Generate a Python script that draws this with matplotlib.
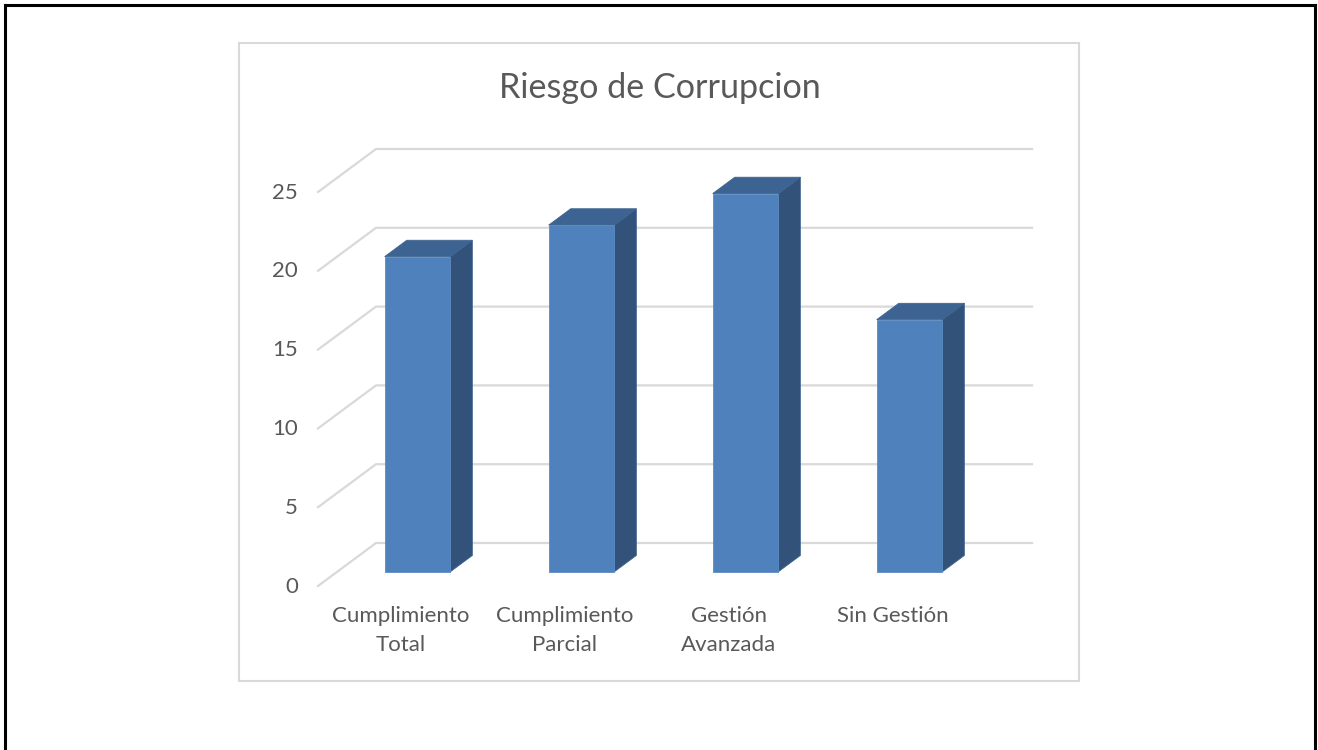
import matplotlib
matplotlib.use('Agg')
import matplotlib.pyplot as plt
from matplotlib.lines import Line2D
from matplotlib.patches import Polygon, Rectangle
from matplotlib.transforms import ScaledTranslation

categories = ['Cumplimiento\nTotal', 'Cumplimiento\nParcial', 'Gestión\nAvanzada', 'Sin Gestión']
values = [20, 22, 24, 16]
y_ticks = [0, 5, 10, 15, 20, 25]
title = 'Riesgo de Corrupcion'

W, H = 1318, 750
plt.rcParams['font.family'] = ['Lato', 'DejaVu Sans']
TEXT = '#595959'
GRID = '#d9d9d9'
FRONT = '#4f81bd'
TOP = '#3c6392'
SIDE = '#325279'

fig = plt.figure(figsize=(W / 100, H / 100), dpi=100)

# outer page frame and chart box, in pixels from the top left
px = lambda x, y: (x / W, 1 - y / H)
for a, b in [((5, 750), (5, 5)), ((5, 5), (1315, 5)), ((1315, 5), (1315, 750))]:
    fig.add_artist(Line2D(*zip(px(*a), px(*b)), color='black', lw=2.2, transform=fig.transFigure))
fig.add_artist(Rectangle(px(239, 681), 840 / W, 638 / H, fc='white', ec=GRID, lw=1.5,
                         transform=fig.transFigure, zorder=-1))
fig.text(659.5 / W, 1 - 88 / H, title, ha='center', va='center', fontsize=24.6, color=TEXT)

# axes is the front plane of the 3D box
ax = fig.add_axes([318 / W, 1 - 586 / H, 656 / W, 394 / H])
ax.set_xlim(0, 4)
ax.set_ylim(0, 25)
ax.patch.set_visible(False)
for s in ax.spines.values():
    s.set_visible(False)

# depth offset of the box, in data units
DX = 58 / (656 / 4)
DY = 43 / (394 / 25)


def project(x, v, d):
    return x + d * DX, v + d * DY


for t in y_ticks:
    ax.plot(*zip(project(0, t, 0), project(0, t, 1), project(4, t, 1)),
            color=GRID, lw=1.6, clip_on=False, zorder=1, solid_joinstyle='miter')

bar_w = 0.40
d0, d1 = 0.33, 0.71
for i, v in enumerate(values):
    x0 = i + 0.49 - bar_w / 2
    x1 = x0 + bar_w
    side = [project(x1, 0, d0), project(x1, 0, d1), project(x1, v, d1), project(x1, v, d0)]
    top = [project(x0, v, d0), project(x1, v, d0), project(x1, v, d1), project(x0, v, d1)]
    ax.add_patch(Polygon(side, fc=SIDE, ec='#3f6490', lw=0.6, clip_on=False, zorder=3))
    ax.add_patch(Polygon(top, fc=TOP, ec='#3f6490', lw=0.6, clip_on=False, zorder=3))
    bx, by = project(x0, 0, d0)
    ax.bar(bx, v, width=bar_w, bottom=by, align='edge', color=FRONT, edgecolor='#5a8ac2',
           linewidth=0.6, clip_on=False, zorder=4)

ax.set_xticks([i + 0.505 for i in range(len(categories))])
ax.set_xticklabels(categories, fontsize=16, color=TEXT, linespacing=1.57)
ax.set_yticks(y_ticks)
ax.set_yticklabels([str(t) for t in y_ticks], fontsize=16, color=TEXT)
ax.tick_params(axis='both', length=0)
ax.tick_params(axis='x', pad=14.5)
ax.tick_params(axis='y', pad=14.3)

# value labels sit a little higher than the gridline ends
shift = ScaledTranslation(0, 1 / 72, fig.dpi_scale_trans)
for lab in ax.get_yticklabels():
    lab.set_transform(lab.get_transform() + shift)

fig.savefig('out.png', dpi=100)
